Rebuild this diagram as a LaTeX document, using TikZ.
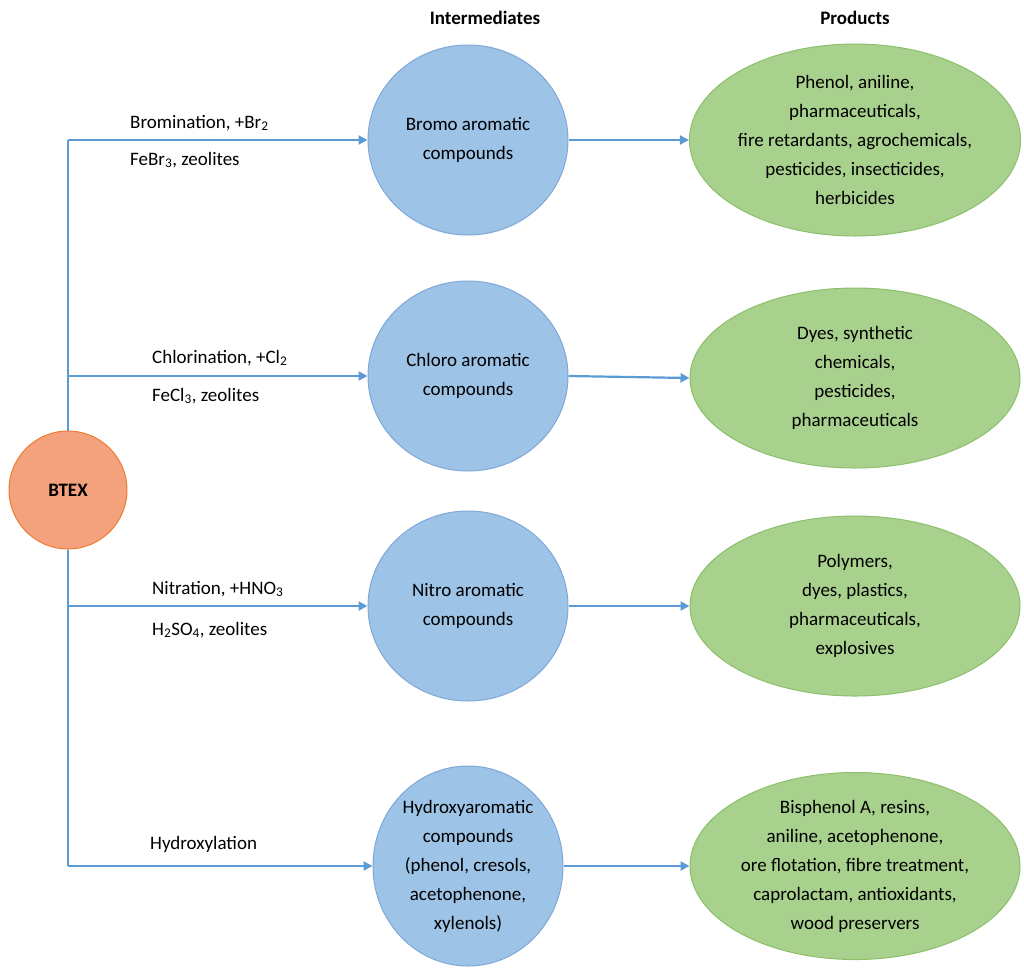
\documentclass[tikz,border=0pt]{standalone}
\usepackage{fontspec}
\setmainfont{Carlito}
\usetikzlibrary{arrows.meta,shapes.geometric}
\definecolor{ln}{HTML}{5B9BD5}
\definecolor{bfill}{HTML}{9DC3E6}
\definecolor{bdraw}{HTML}{7FA8D8}
\definecolor{gfill}{HTML}{A9D18E}
\definecolor{gdraw}{HTML}{8CBF6A}
\definecolor{ofill}{HTML}{F4A27E}
\definecolor{odraw}{HTML}{ED7D31}
\begin{document}
\begin{tikzpicture}[x=1pt,y=-1pt,
  every node/.style={font=\fontsize{19}{29}\selectfont},
  inter/.style={ellipse,draw=bdraw,line width=1pt,fill=bfill,align=center,inner sep=0pt,minimum width=200pt,minimum height=#1},
  prod/.style={ellipse,draw=gdraw,line width=1pt,fill=gfill,align=center,inner sep=0pt,minimum width=330pt,minimum height=#1},
  conn/.style={draw=ln,line width=2.2pt},
  arr/.style={conn,-{Triangle[length=9pt,width=9pt]}},
  lab/.style={anchor=west,inner sep=0pt}]
\useasboundingbox (0,0) rectangle (1024,967);
\node[circle,draw=odraw,line width=1pt,fill=ofill,minimum size=118pt,font=\fontsize{19}{29}\selectfont\bfseries] (btex) at (68,490) {BTEX};
\node[font=\fontsize{19}{29}\selectfont\bfseries] (h1) at (485,18) {Intermediates};
\node[font=\fontsize{19}{29}\selectfont\bfseries] (h2) at (855,18) {Products};
\node[inter=190pt] (i1) at (468,140) {Bromo aromatic\\compounds};
\node[inter=190pt] (i2) at (468,376) {Chloro aromatic\\compounds};
\node[inter=190pt] (i3) at (468,606) {Nitro aromatic\\compounds};
\node[inter=200pt,minimum width=190pt] (i4) at (468,866) {Hydroxyaromatic\\compounds\\(phenol, cresols,\\acetophenone,\\xylenols)};
\node[prod=192pt] (p1) at (855,140) {Phenol, aniline,\\pharmaceuticals,\\fire retardants, agrochemicals,\\pesticides, insecticides,\\herbicides};
\node[prod=180pt] (p2) at (855,378) {Dyes, synthetic\\chemicals,\\pesticides,\\pharmaceuticals};
\node[prod=180pt] (p3) at (855,606) {Polymers,\\dyes, plastics,\\pharmaceuticals,\\explosives};
\node[prod=180pt] (p4) at (855,866) {Bisphenol A, resins,\\aniline, acetophenone,\\ore flotation, fibre treatment,\\caprolactam, antioxidants,\\wood preservers};
\coordinate (t1) at (68,140);
\coordinate (t4) at (68,866);
\draw[conn] (btex.north) -- (t1);
\draw[conn] (btex.south) -- (t4);
\draw[arr] (t1) -- (i1.west);
\draw[arr] (68,376) -- (i2.west);
\draw[arr] (68,606) -- (i3.west);
\draw[arr] (t4) -- (i4.west);
\foreach \k in {1,2,3,4} \draw[arr] (i\k.east) -- (p\k.west);
\node[lab] (l1a) at (130,123) {Bromination, +Br\textsubscript{2}};
\node[lab] (l1b) at (130,160) {FeBr\textsubscript{3}, zeolites};
\node[lab] (l2a) at (152,358) {Chlorination, +Cl\textsubscript{2}};
\node[lab] (l2b) at (152,396) {FeCl\textsubscript{3}, zeolites};
\node[lab] (l3a) at (152,589) {Nitration, +HNO\textsubscript{3}};
\node[lab] (l3b) at (152,630) {H\textsubscript{2}SO\textsubscript{4}, zeolites};
\node[lab] (l4a) at (150,844) {Hydroxylation};
\end{tikzpicture}
\end{document}
